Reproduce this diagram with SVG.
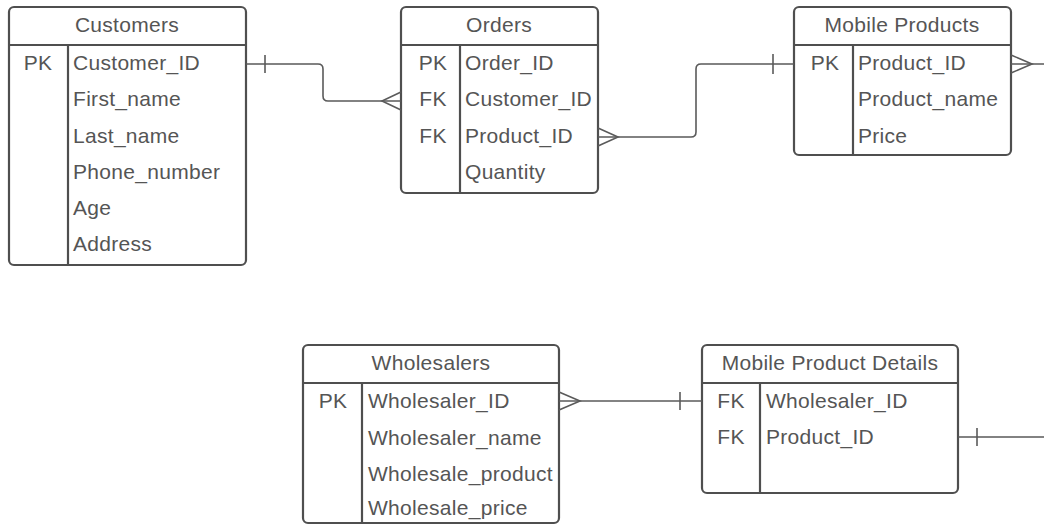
<svg xmlns="http://www.w3.org/2000/svg" width="1044" height="525" viewBox="0 0 1044 525">
  <style>
    .box { fill: #ffffff; stroke: #4f4f4f; stroke-width: 2.2; }
    .div { stroke: #4f4f4f; stroke-width: 2.2; fill: none; }
    .t { font-family: "Liberation Sans", Arial, sans-serif; font-size: 21px; letter-spacing: 0.3px; fill: #555555; }
    .h { text-anchor: middle; }
    .k { text-anchor: middle; }
    .conn { stroke: #5a5a5a; stroke-width: 1.6; fill: none; }
  </style>
  <rect width="1044" height="525" fill="#ffffff"/>

  <!-- Customers -->
  <g id="customers">
    <rect class="box" x="9" y="7" width="237" height="258" rx="5"/>
    <line class="div" x1="9" y1="45" x2="246" y2="45"/>
    <line class="div" x1="68" y1="45" x2="68" y2="265"/>
    <text class="t h" x="127" y="32">Customers</text>
    <text class="t k" x="38" y="70">PK</text>
    <text class="t" x="73" y="70">Customer_ID</text>
    <text class="t" x="73" y="106">First_name</text>
    <text class="t" x="73" y="143">Last_name</text>
    <text class="t" x="73" y="179">Phone_number</text>
    <text class="t" x="73" y="215">Age</text>
    <text class="t" x="73" y="251">Address</text>
  </g>

  <!-- Orders -->
  <g id="orders">
    <rect class="box" x="401" y="7" width="197" height="186" rx="5"/>
    <line class="div" x1="401" y1="45" x2="598" y2="45"/>
    <line class="div" x1="460" y1="45" x2="460" y2="193"/>
    <text class="t h" x="499" y="32">Orders</text>
    <text class="t k" x="433" y="70">PK</text>
    <text class="t k" x="433" y="106">FK</text>
    <text class="t k" x="433" y="143">FK</text>
    <text class="t" x="465" y="70">Order_ID</text>
    <text class="t" x="465" y="106">Customer_ID</text>
    <text class="t" x="465" y="143">Product_ID</text>
    <text class="t" x="465" y="179">Quantity</text>
  </g>

  <!-- Mobile Products -->
  <g id="mobile-products">
    <rect class="box" x="794" y="7" width="217" height="148" rx="5"/>
    <line class="div" x1="794" y1="45" x2="1011" y2="45"/>
    <line class="div" x1="853" y1="45" x2="853" y2="155"/>
    <text class="t h" x="902" y="32">Mobile Products</text>
    <text class="t k" x="825" y="70">PK</text>
    <text class="t" x="858" y="70">Product_ID</text>
    <text class="t" x="858" y="106">Product_name</text>
    <text class="t" x="858" y="143">Price</text>
  </g>

  <!-- Wholesalers -->
  <g id="wholesalers">
    <rect class="box" x="303" y="345" width="256" height="178" rx="5"/>
    <line class="div" x1="303" y1="383" x2="559" y2="383"/>
    <line class="div" x1="362" y1="383" x2="362" y2="523"/>
    <text class="t h" x="431" y="370">Wholesalers</text>
    <text class="t k" x="333" y="408">PK</text>
    <text class="t" x="368" y="408">Wholesaler_ID</text>
    <text class="t" x="368" y="445">Wholesaler_name</text>
    <text class="t" x="368" y="481">Wholesale_product</text>
    <text class="t" x="368" y="515">Wholesale_price</text>
  </g>

  <!-- Mobile Product Details -->
  <g id="mobile-product-details">
    <rect class="box" x="702" y="345" width="256" height="148" rx="5"/>
    <line class="div" x1="702" y1="383" x2="958" y2="383"/>
    <line class="div" x1="760" y1="383" x2="760" y2="493"/>
    <text class="t h" x="830" y="370">Mobile Product Details</text>
    <text class="t k" x="731" y="408">FK</text>
    <text class="t k" x="731" y="444">FK</text>
    <text class="t" x="766" y="408">Wholesaler_ID</text>
    <text class="t" x="766" y="444">Product_ID</text>
  </g>

  <!-- Relationship lines with crow's-foot ends -->
  <g id="connectors">
    <!-- Customers 1 : N Orders -->
    <path class="conn" d="M246,64 H318 Q323,64 323,69 V96 Q323,101 328,101 H401"/>
    <line class="conn" x1="265" y1="55" x2="265" y2="73"/>
    <path class="conn" d="M401,92 L382,101 L401,110"/>

    <!-- Orders N : 1 Mobile Products -->
    <path class="conn" d="M598,137 H691 Q696,137 696,132 V69 Q696,64 701,64 H794"/>
    <path class="conn" d="M598,128 L618,137 L598,146"/>
    <line class="conn" x1="773" y1="54" x2="773" y2="74"/>

    <!-- Mobile Products N : 1 Mobile Product Details -->
    <path class="conn" d="M1011,64 H1044.8 V437 H958"/>
    <path class="conn" d="M1011,55 L1032,64 L1011,73"/>
    <line class="conn" x1="977" y1="428" x2="977" y2="446"/>

    <!-- Wholesalers N : 1 Mobile Product Details -->
    <path class="conn" d="M559,401 H702"/>
    <path class="conn" d="M559,392 L580,401 L559,410"/>
    <line class="conn" x1="680" y1="392" x2="680" y2="410"/>
  </g>
</svg>
